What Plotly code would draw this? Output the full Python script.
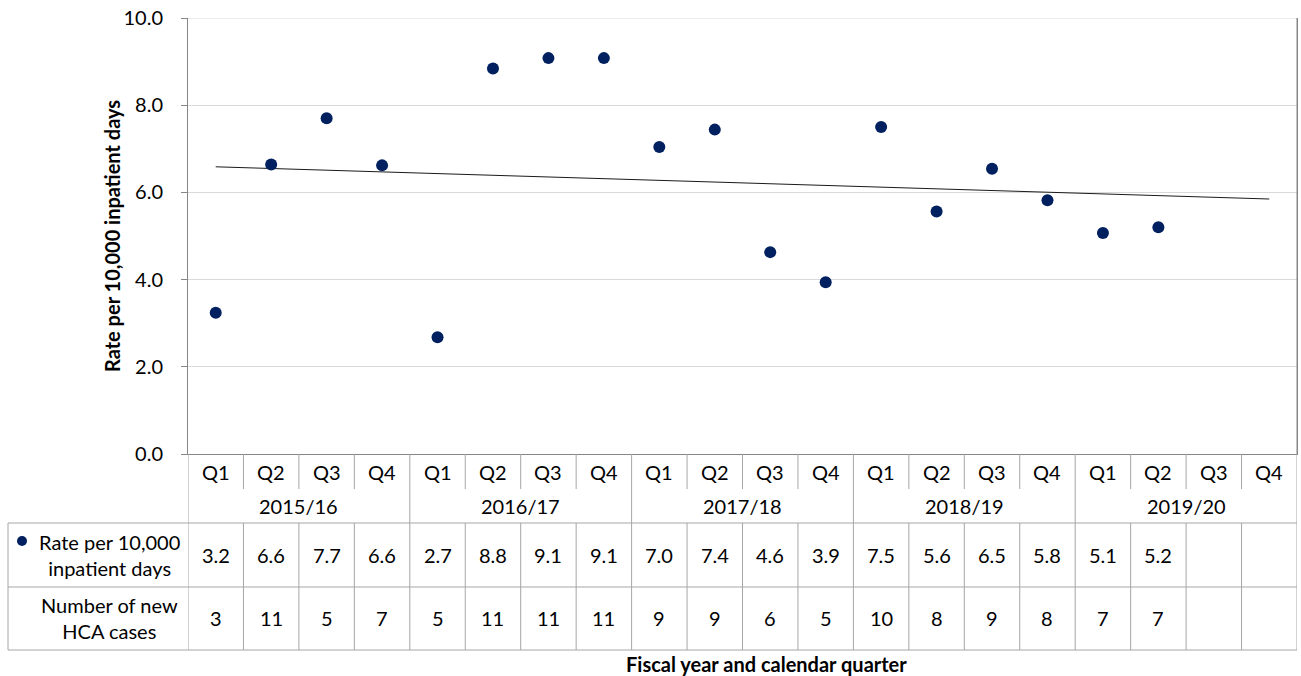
import numpy as np
import plotly.graph_objects as go

quarters = ["Q1", "Q2", "Q3", "Q4"] * 5
years = ["2015/16", "2016/17", "2017/18", "2018/19", "2019/20"]
rate = [3.24, 6.64, 7.70, 6.62, 2.68, 8.84, 9.08, 9.08, 7.04, 7.44, 4.63, 3.94,
        7.50, 5.56, 6.54, 5.82, 5.07, 5.20]
cases = [3, 11, 5, 7, 5, 11, 11, 11, 9, 9, 6, 5, 10, 8, 9, 8, 7, 7]
y_ticks = [0, 2, 4, 6, 8, 10]

NAVY = "#002060"
FONT = "Lato"
FS = 20
TABLE = "#a6a6a6"
AXIS = "#868686"
GRID = "#d9d9d9"

W, H = 1301, 676
L, R, T, B = 188, 4, 18, 676 - 454
PW, PH = W - L - R, H - T - B


def py(p):  # reference pixel row -> paper y
    return (454 - p) / PH


def px(p):  # reference pixel col -> paper x
    return (p - 188) / PW


xi = list(range(len(rate)))
n_all = len(quarters)
coef = np.polyfit(xi, rate, 1)
tx = [0, n_all - 1]
ty = [coef[0] * t + coef[1] for t in tx]

fig = go.Figure()
fig.add_trace(go.Scatter(x=tx, y=ty, mode="lines",
                         line=dict(color="#1a1a1a", width=1), hoverinfo="skip",
                         showlegend=False))
fig.add_trace(go.Scatter(x=xi, y=rate, mode="markers",
                         marker=dict(color=NAVY, size=12),
                         name="Rate per 10,000 inpatient days", showlegend=False))

shapes = []
ann = []


def text(x, y, s, xref="x", **kw):
    d = dict(x=x, y=y, xref=xref, yref="paper", text=s, showarrow=False,
             xanchor="center", yanchor="middle")
    d.update(kw)
    ann.append(d)


def hline(y, x0=px(8), x1=1.0):
    shapes.append(dict(type="line", xref="paper", yref="paper", x0=x0, x1=x1,
                       y0=py(y), y1=py(y), line=dict(color=TABLE, width=1)))


def vline(x, y0, y1):
    shapes.append(dict(type="line", xref="x", yref="paper", x0=x, x1=x,
                       y0=py(y0), y1=py(y1), line=dict(color=TABLE, width=1)))


# top gridline and right border of the plot area
shapes.append(dict(type="line", xref="paper", yref="y", x0=0, x1=1,
                   y0=y_ticks[-1], y1=y_ticks[-1], line=dict(color=GRID, width=1),
                   layer="below"))
shapes.append(dict(type="line", xref="paper", yref="paper", x0=1, x1=1,
                   y0=0, y1=1, line=dict(color=AXIS, width=1)))

for y in (523, 587, 650):
    hline(y)
shapes.append(dict(type="line", xref="paper", yref="paper", x0=px(8), x1=px(8),
                   y0=py(523), y1=py(650), line=dict(color=TABLE, width=1)))
for i in range(n_all + 1):
    b = i - 0.5
    if i % 4 == 0:
        vline(b, 454, 650)
    else:
        vline(b, 454, 489)
        vline(b, 523, 650)

for i, q in enumerate(quarters):
    text(i, py(472), q)
for k, yr in enumerate(years):
    text(4 * k + 1.5, py(506), yr)
for i, v in enumerate(rate):
    text(i, py(555), f"{v:.1f}")
for i, v in enumerate(cases):
    text(i, py(618), str(v))

text(px(109), py(555), "Rate per 10,000<br>inpatient days", xref="paper",
     align="center")
text(px(109), py(618), "Number of new<br>HCA cases", xref="paper",
     align="center")
shapes.append(dict(type="circle", xref="paper", yref="paper",
                   x0=px(17), x1=px(27), y0=py(546), y1=py(536),
                   fillcolor=NAVY, line=dict(width=0)))

text(px(766), py(664), "<b>Fiscal year and calendar quarter</b>", xref="paper")
text(px(112), py(236), "<b>Rate per 10,000 inpatient days</b>", xref="paper",
     textangle=-90)

fig.update_layout(
    width=W, height=H,
    margin=dict(l=L, r=R, t=T, b=B, autoexpand=False),
    paper_bgcolor="white", plot_bgcolor="white",
    font=dict(family=FONT, size=FS, color="#000000"),
    shapes=shapes, annotations=ann,
    xaxis=dict(range=[-0.5, n_all - 0.5], showticklabels=False, showgrid=False,
               zeroline=False, showline=True, linecolor=AXIS, ticks="",
               fixedrange=True),
    yaxis=dict(range=[0, 10.0001], tickmode="array", tickvals=y_ticks,
               ticktext=[f"{v:.1f}" for v in y_ticks], showgrid=True,
               gridcolor=GRID, gridwidth=1, zeroline=False, showline=True,
               linecolor=AXIS, mirror=True, ticks="outside", ticklen=6,
               tickcolor=AXIS, ticklabelstandoff=14,
               ticklabeloverflow="allow",
               tickfont=dict(family=FONT, size=FS)),
)

fig.write_html("out.html",
               config={"displayModeBar": False},
               post_script="document.body.style.margin='0px';"
                           "document.body.style.overflow='hidden';")
